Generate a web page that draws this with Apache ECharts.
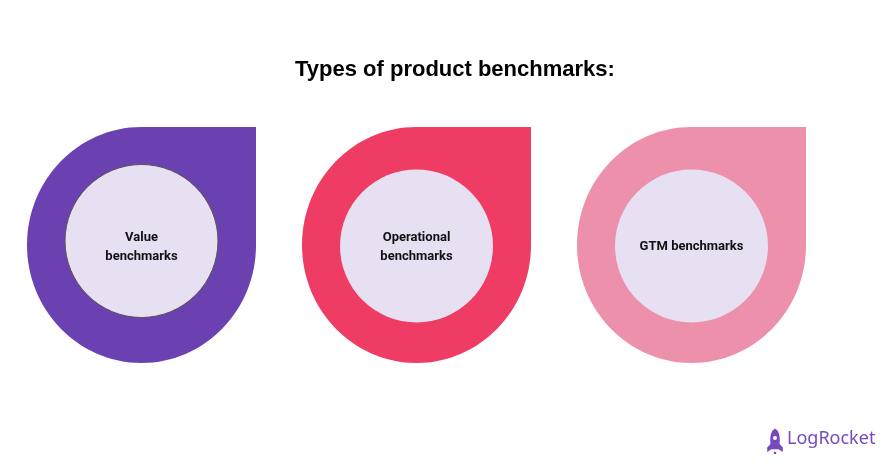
<!DOCTYPE html>
<html>
<head>
<meta charset="utf-8">
<script src="https://cdn.jsdelivr.net/npm/echarts@6/dist/echarts.min.js"></script>
<style>html,body{margin:0;padding:0;background:#fff;}#c{width:895px;height:471px;}</style>
</head>
<body>
<div id="c"></div>
<script>
var titleText = 'Types of product benchmarks:';
var categories = ['Value benchmarks', 'Operational benchmarks', 'GTM benchmarks'];
var labels = ['Value\nbenchmarks', 'Operational\nbenchmarks', 'GTM benchmarks'];
var levels = [0, 0, 0];
var colors = ['#6B41B1', '#EF3C64', '#EC90AB'];
var innerColor = '#E7DFF2';
var brand = 'LogRocket';

var chart = echarts.init(document.getElementById('c'), null, {renderer: 'canvas'});

function teardrop(cx, cy, rx, ry) {
  var k = 0.5523;
  return 'M' + cx + ' ' + (cy - ry) +
    ' L' + (cx + rx) + ' ' + (cy - ry) +
    ' L' + (cx + rx) + ' ' + cy +
    ' C' + (cx + rx) + ' ' + (cy + ry * k) + ' ' + (cx + rx * k) + ' ' + (cy + ry) + ' ' + cx + ' ' + (cy + ry) +
    ' C' + (cx - rx * k) + ' ' + (cy + ry) + ' ' + (cx - rx) + ' ' + (cy + ry * k) + ' ' + (cx - rx) + ' ' + cy +
    ' C' + (cx - rx) + ' ' + (cy - ry * k) + ' ' + (cx - rx * k) + ' ' + (cy - ry) + ' ' + cx + ' ' + (cy - ry) + ' Z';
}

var rocket = [[775,428.5],[777.7,430.8],[779.2,434.5],[779.8,439],[779.6,444],[782.8,447.5],[782.8,452],[778.5,449.2],[771.5,449.2],[767.2,452],[767.2,447.5],[770.4,444],[770.2,439],[770.8,434.5],[772.3,430.8]];

var option = {
  animation: false,
  backgroundColor: '#ffffff',
  title: {
    text: titleText,
    left: 290,
    top: 54,
    textStyle: {fontFamily: 'Liberation Sans, Arial, sans-serif', fontWeight: 'bold', fontSize: 22, color: '#000'}
  },
  grid: {left: 4, width: 825, top: 145, bottom: 126},
  xAxis: {type: 'category', data: categories, show: false, boundaryGap: true},
  yAxis: {type: 'value', min: -1, max: 1, show: false},
  series: [{
    type: 'custom',
    data: categories.map(function (c, i) { return [i, levels[i]]; }),
    renderItem: function (params, api) {
      var i = params.dataIndex;
      var p = api.coord([api.value(0), api.value(1)]);
      var cx = p[0], cy = p[1];
      var innerDy = i === 0 ? -4 : 1;
      return {
        type: 'group',
        children: [
          {type: 'path', shape: {pathData: teardrop(cx, cy, 114.5, 118)}, style: {fill: colors[i]}},
          {type: 'circle', shape: {cx: cx, cy: cy + innerDy, r: 76.5},
           style: {fill: innerColor, stroke: i === 0 ? '#555555' : null, lineWidth: i === 0 ? 1 : 0}},
          {type: 'text', x: cx, y: cy + 2,
           style: {text: labels[i], fontFamily: 'Roboto', fontWeight: 'bold', fontSize: 13, fill: '#111111',
                   align: 'center', verticalAlign: 'middle', lineHeight: 19}}
        ]
      };
    }
  }],
  graphic: [
    {type: 'polygon', shape: {points: rocket}, style: {fill: '#764ABC'}},
    {type: 'circle', shape: {cx: 775, cy: 438, r: 2}, style: {fill: '#ffffff'}},
    {type: 'circle', shape: {cx: 775, cy: 453, r: 1.3}, style: {fill: '#764ABC'}},
    {type: 'text', left: 787, top: 430,
     style: {text: brand, fontFamily: 'Noto Sans', fontSize: 18, fill: '#764ABC'}}
  ]
};
chart.setOption(option);
</script>
</body>
</html>
